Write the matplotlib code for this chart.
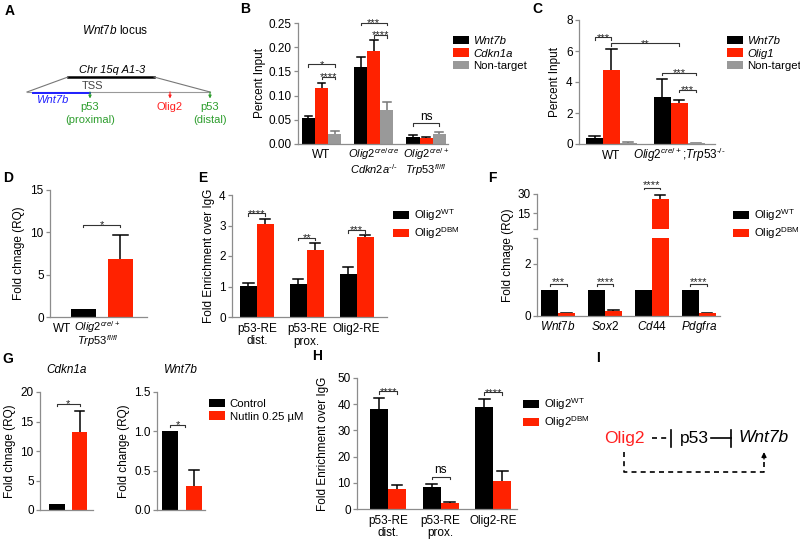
import numpy as np
import matplotlib
matplotlib.use("Agg")
import matplotlib.pyplot as plt

plt.rcParams['font.family'] = ['Liberation Sans', 'DejaVu Sans']
plt.rcParams['mathtext.fontset'] = 'custom'
plt.rcParams['mathtext.rm'] = 'Liberation Sans'
plt.rcParams['mathtext.it'] = 'Liberation Sans:italic'
plt.rcParams['mathtext.bf'] = 'Liberation Sans:bold'
plt.rcParams['font.size'] = 8

BLACK = '#000000'
RED = '#ff2200'
GRAY = '#999999'
SPINE = '#8c8c8c'
W, H = 800, 543

# ---- data ----
# B: ChIP percent input
groups_B = [['WT'],
            ['$\\mathit{Olig2}^{\\mathit{cre/cre}}$', '$\\mathit{Cdkn2a}^{\\text{-/-}}$'],
            ['$\\mathit{Olig2}^{\\mathit{cre/+}}$', '$\\mathit{Trp53}^{\\mathit{fl/fl}}$']]
wnt7b_B = [0.053, 0.160, 0.015]
wnt7b_B_err = [0.004, 0.020, 0.004]
cdkn1a_B = [0.116, 0.193, 0.013]
cdkn1a_B_err = [0.010, 0.021, 0.001]
nontarget_B = [0.021, 0.070, 0.020]
nontarget_B_err = [0.006, 0.017, 0.004]

# C
groups_C = [['WT'], ['$\\mathit{Olig2}^{\\mathit{cre/+}}$;$\\mathit{Trp53}^{\\text{-/-}}$']]
wnt7b_C = [0.37, 3.01]
wnt7b_C_err = [0.13, 1.16]
olig1_C = [4.77, 2.63]
olig1_C_err = [1.33, 0.20]
nontarget_C = [0.08, 0.05]
nontarget_C_err = [0.03, 0.03]

# D
groups_D = [['WT'], ['$\\mathit{Olig2}^{\\mathit{cre/+}}$', '$\\mathit{Trp53}^{\\mathit{fl/fl}}$']]
fold_D = [1.0, 6.8]
fold_D_err = [0.0, 2.9]

# E
groups_E = [['p53-RE', 'dist.'], ['p53-RE', 'prox.'], ['Olig2-RE']]
wt_E = [1.02, 1.07, 1.41]
wt_E_err = [0.10, 0.18, 0.22]
dbm_E = [3.05, 2.20, 2.61]
dbm_E_err = [0.17, 0.24, 0.08]

# F
genes_F = [['$\\mathit{Wnt7b}$'], ['$\\mathit{Sox2}$'], ['$\\mathit{Cd44}$'], ['$\\mathit{Pdgfra}$']]
wt_F = [1.0, 1.0, 1.0, 1.0]
dbm_F = [0.10, 0.20, 26.2, 0.10]
dbm_F_err = [0.03, 0.03, 3.0, 0.03]

# G
conds_G = ['Control', 'Nutlin 0.25 µM']
cdkn1a_G = [1.0, 13.3]
cdkn1a_G_err = [0.0, 3.5]
wnt7b_G = [1.0, 0.30]
wnt7b_G_err = [0.0, 0.21]

# H
groups_H = [['p53-RE', 'dist.'], ['p53-RE', 'prox.'], ['Olig2-RE']]
wt_H = [38.0, 8.5, 39.0]
wt_H_err = [4.2, 1.0, 2.9]
dbm_H = [7.5, 2.2, 10.8]
dbm_H_err = [1.7, 0.3, 3.8]


def rect(x0, x1, y0, y1):
    return [x0 / W, 1 - y1 / H, (x1 - x0) / W, (y1 - y0) / H]


def style(ax):
    for s in ['top', 'right']:
        ax.spines[s].set_visible(False)
    for s in ['left', 'bottom']:
        ax.spines[s].set_color(SPINE)
        ax.spines[s].set_linewidth(0.9)
    ax.tick_params(axis='y', length=3, width=0.9, color=SPINE, labelsize=8.5, pad=1.5)
    ax.tick_params(axis='x', length=0, labelsize=8.5, pad=3)


def xlabels(ax, xs, groups, first=10, step=8.6, size=8.5):
    # group labels drawn line by line so that mathtext lines keep a tight spacing
    ax.set_xticks([])
    for x, lines in zip(xs, groups):
        for i, t in enumerate(lines):
            ax.annotate(t, xy=(x, 0), xycoords=('data', 'axes fraction'),
                        xytext=(0, -(first + i * step)), textcoords='offset points',
                        ha='center', va='baseline', fontsize=size, annotation_clip=False)


def bars(ax, x, vals, errs, width, color, ecolor=BLACK, label=None):
    c = ax.bar(x, vals, width, color=color, label=label, zorder=2)
    x = np.asarray(x, dtype=float)
    for xi, v, e in zip(x, vals, errs):
        if e > 0:
            ax.plot([xi, xi], [v, v + e], color=ecolor, lw=1.1, zorder=1,
                    solid_capstyle='butt')
            ax.plot([xi - 0.3 * width, xi + 0.3 * width], [v + e, v + e],
                    color=ecolor, lw=1.1, zorder=1)
    return c


def sig(ax, x1, x2, y, txt, h=None):
    lo, hi = ax.get_ylim()
    if h is None:
        h = 0.02 * (hi - lo)
    ax.plot([x1, x1, x2, x2], [y - h, y, y, y - h], color='#333333', lw=0.8,
            clip_on=False)
    if txt == 'ns':
        ax.text((x1 + x2) / 2, y + 0.005 * (hi - lo), txt, ha='center', va='bottom',
                fontsize=8.5)
    else:
        ax.text((x1 + x2) / 2, y - 0.045 * (hi - lo), txt, ha='center', va='bottom',
                fontsize=8, color='#222222')


def legend(ax, handles, labels, x, y, italic=()):
    leg = fig.legend(handles, labels, loc='upper left',
                     bbox_to_anchor=(x / W, 1 - y / H), bbox_transform=fig.transFigure,
                     frameon=False, fontsize=8.2, handlelength=1.4, handleheight=0.75,
                     labelspacing=0.2, handletextpad=0.4, borderpad=0, borderaxespad=0)
    for i in italic:
        leg.get_texts()[i].set_fontstyle('italic')
    return leg


fig = plt.figure(figsize=(8, 5.43), dpi=100)

ov = fig.add_axes([0, 0, 1, 1])
ov.set_xlim(0, W)
ov.set_ylim(H, 0)
ov.axis('off')

# panel letters
for lab, px, py in [('A', 10, 11), ('B', 245, 9), ('C', 537, 9), ('D', 8, 178),
                    ('E', 203, 178), ('F', 492, 178), ('G', 8, 359), ('H', 317, 356),
                    ('I', 598, 358)]:
    ov.text(px, py, lab, fontsize=10, fontweight='bold', ha='center', va='center')

# ---- A: locus schematic ----
green = '#2e9e2e'
ov.text(115, 30, '$\\mathit{Wnt7b}$ locus', ha='center', va='center', fontsize=8.5)
ov.text(112, 70, 'Chr 15q A1-3', ha='center', va='center', fontsize=8, style='italic')
ov.plot([68, 154], [77, 77], color='k', lw=1.8)
ov.plot([27, 68], [92, 77], color='#777777', lw=0.8)
ov.plot([154, 210], [77, 92], color='#777777', lw=0.8)
ov.plot([27, 210], [92, 92], color='#999999', lw=0.8)
ov.text(93, 86, 'TSS', ha='center', va='center', fontsize=8, color='#444444')
ov.plot([33, 90], [92.5, 92.5], color='#1f1fff', lw=1.4)
ov.text(52, 100, 'Wnt7b', ha='center', va='center', fontsize=8, style='italic',
        color='#1f1fff')
for ax_x, col in [(90, green), (170, '#ff2020'), (210, green)]:
    ov.annotate('', xy=(ax_x, 98.5), xytext=(ax_x, 92),
                arrowprops=dict(arrowstyle='-|>', color=col, lw=0.8, mutation_scale=4,
                                shrinkA=0, shrinkB=0))
ov.text(90, 107, 'p53', ha='center', va='center', fontsize=8, color=green)
ov.text(90, 120, '(proximal)', ha='center', va='center', fontsize=8, color=green)
ov.text(170, 107, 'Olig2', ha='center', va='center', fontsize=8, color='#ff2020')
ov.text(210, 107, 'p53', ha='center', va='center', fontsize=8, color=green)
ov.text(210, 120, '(distal)', ha='center', va='center', fontsize=8, color=green)

# ---- B ----
axB = fig.add_axes(rect(298, 448, 23, 144))
style(axB)
xB = np.arange(len(groups_B))
wB = 0.25
axB.set_xlim(-0.45, 2.42)
axB.set_ylim(0, 0.25)
b1 = bars(axB, xB - wB, wnt7b_B, wnt7b_B_err, wB, BLACK)
b2 = bars(axB, xB, cdkn1a_B, cdkn1a_B_err, wB, RED)
b3 = bars(axB, xB + wB, nontarget_B, nontarget_B_err, wB, GRAY, ecolor='#777777')
axB.set_yticks([0, 0.05, 0.10, 0.15, 0.20, 0.25])
axB.set_yticklabels(['0.00', '0.05', '0.10', '0.15', '0.20', '0.25'])
xlabels(axB, xB[:1], groups_B[:1], first=10)
xlabels(axB, xB[1:], groups_B[1:], first=10, step=11.3, size=8)
axB.set_ylabel('Percent Input', fontsize=8.5, labelpad=2)
sig(axB, -wB, wB, 0.165, '*')
sig(axB, 0, wB, 0.139, '****')
sig(axB, 1 - wB, 1 + wB, 0.25, '***')
sig(axB, 1, 1 + wB, 0.225, '****')
sig(axB, 2 - wB, 2 + wB, 0.043, 'ns')
legend(axB, [b1, b2, b3], ['Wnt7b', 'Cdkn1a', 'Non-target'], 453, 36, italic=(0, 1))

# ---- C ----
axC = fig.add_axes(rect(579, 715, 20, 144))
style(axC)
xC = np.arange(len(groups_C))
wC = 0.25
axC.set_xlim(-0.48, 1.53)
axC.set_ylim(0, 8)
c1 = bars(axC, xC - wC, wnt7b_C, wnt7b_C_err, wC, BLACK)
c2 = bars(axC, xC, olig1_C, olig1_C_err, wC, RED)
c3 = bars(axC, xC + wC, nontarget_C, nontarget_C_err, wC, GRAY, ecolor='#777777')
axC.set_yticks([0, 2, 4, 6, 8])
xlabels(axC, xC, groups_C, first=10.5)
axC.set_ylabel('Percent Input', fontsize=8.5, labelpad=4)
sig(axC, -wC, 0, 6.9, '***')
sig(axC, 0, 1, 6.5, '**')
sig(axC, 1 - wC, 1 + wC, 4.6, '***')
sig(axC, 1, 1 + wC, 3.5, '***')
legend(axC, [c1, c2, c3], ['Wnt7b', 'Olig1', 'Non-target'], 727, 36, italic=(0, 1))

# ---- D ----
axD = fig.add_axes(rect(50, 147, 190, 317))
style(axD)
xD = np.arange(len(groups_D))
axD.set_xlim(-0.9, 1.72)
axD.set_ylim(0, 15)
bars(axD, xD[:1], fold_D[:1], fold_D_err[:1], 0.68, BLACK)
bars(axD, xD[1:], fold_D[1:], fold_D_err[1:], 0.68, RED)
axD.set_yticks([0, 5, 10, 15])
# labels sit left of the bars in the original
xlabels(axD, xD[:1] - 0.58, groups_D[:1], first=10.5)
xlabels(axD, xD[1:] - 0.62, groups_D[1:], first=10, step=10.2, size=8)
axD.set_ylabel('Fold chnage (RQ)', fontsize=8.5, labelpad=4)
sig(axD, 0, 1, 10.9, '*')

# ---- E ----
axE = fig.add_axes(rect(232, 387, 195, 317))
style(axE)
xE = np.arange(len(groups_E))
wE = 0.34
axE.set_xlim(-0.5, 2.61)
axE.set_ylim(0, 4)
e1 = bars(axE, xE - wE / 2, wt_E, wt_E_err, wE, BLACK)
e2 = bars(axE, xE + wE / 2, dbm_E, dbm_E_err, wE, RED)
axE.set_yticks([0, 1, 2, 3, 4])
xlabels(axE, xE, groups_E, first=11, step=8.8)
axE.set_ylabel('Fold Enrichment over IgG', fontsize=8.5, labelpad=3)
sig(axE, -wE / 2, wE / 2, 3.4, '****')
sig(axE, 1 - wE / 2, 1 + wE / 2, 2.6, '**')
sig(axE, 2 - wE / 2, 2 + wE / 2, 2.85, '***')
legend(axE, [e1, e2], ['Olig2$^{\\rm WT}$', 'Olig2$^{\\rm DBM}$'], 393, 207)

# ---- F (broken axis) ----
xF = np.arange(len(genes_F))
wF = 0.36
axF = fig.add_axes(rect(537, 720, 238, 316))
axFu = fig.add_axes(rect(537, 720, 194, 229))
for a in (axF, axFu):
    style(a)
    a.set_xlim(-0.45, 3.45)
    f1 = bars(a, xF - wF / 2, wt_F, [0, 0, 0, 0], wF, BLACK)
    f2 = bars(a, xF + wF / 2, dbm_F, dbm_F_err, wF, RED)
axF.set_ylim(0, 3)
axF.set_yticks([0, 2])
axF.set_yticks([3], minor=True)
axF.tick_params(axis='y', which='minor', length=3, width=0.9, color=SPINE)
xlabels(axF, xF, genes_F, first=10)
axFu.set_ylim(3, 30)
axFu.set_yticks([15, 30])
axFu.set_yticks([3], minor=True)
axFu.tick_params(axis='y', which='minor', length=3, width=0.9, color=SPINE)
axFu.spines['bottom'].set_visible(False)
axFu.set_xticks([])
fig.text(508 / W, 1 - 255 / H, 'Fold chnage (RQ)', rotation=90, ha='center',
         va='center', fontsize=8.5)
for i in (0, 1, 3):
    sig(axF, i - wF / 2, i + wF / 2, 1.23, '****' if i else '***')
sig(axFu, 2 - wF / 2, 2 + wF / 2, 34.4, '****')
legend(axF, [f1, f2], ['Olig2$^{\\rm WT}$', 'Olig2$^{\\rm DBM}$'], 733, 207)

# ---- G ----
axG1 = fig.add_axes(rect(40, 93, 392, 510))
style(axG1)
axG1.set_xlim(-0.76, 1.6)
axG1.set_ylim(0, 20)
g1 = bars(axG1, [0], cdkn1a_G[:1], cdkn1a_G_err[:1], 0.7, BLACK)
g2 = bars(axG1, [1], cdkn1a_G[1:], cdkn1a_G_err[1:], 0.7, RED)
axG1.set_yticks([0, 5, 10, 15, 20])
axG1.set_xticks([])
axG1.set_ylabel('Fold chnage (RQ)', fontsize=8.5, labelpad=3)
axG1.set_title('Cdkn1a', fontstyle='italic', fontsize=8.5, pad=14)
sig(axG1, 0, 1, 18.0, '*')

axG2 = fig.add_axes(rect(157, 205, 392, 510))
style(axG2)
axG2.set_xlim(-0.57, 1.47)
axG2.set_ylim(0, 1.5)
bars(axG2, [0], wnt7b_G[:1], wnt7b_G_err[:1], 0.68, BLACK)
bars(axG2, [1], wnt7b_G[1:], wnt7b_G_err[1:], 0.68, RED)
axG2.set_yticks([0, 0.5, 1.0, 1.5])
axG2.set_yticklabels(['0.0', '0.5', '1.0', '1.5'])
axG2.set_xticks([])
axG2.set_ylabel('Fold change (RQ)', fontsize=8.5, labelpad=3)
axG2.set_title('Wnt7b', fontstyle='italic', fontsize=8.5, pad=14)
sig(axG2, 0, 0.6, 1.08, '*')
legend(axG2, [g1, g2], conds_G, 209, 399)

# ---- H ----
axH = fig.add_axes(rect(357, 517, 378, 509))
style(axH)
xH = np.arange(len(groups_H))
wH = 0.34
axH.set_xlim(-0.59, 2.45)
axH.set_ylim(0, 50)
h1 = bars(axH, xH - wH / 2, wt_H, wt_H_err, wH, BLACK)
h2 = bars(axH, xH + wH / 2, dbm_H, dbm_H_err, wH, RED)
axH.set_yticks([0, 10, 20, 30, 40, 50])
xlabels(axH, xH, groups_H, first=10.5, step=8.8)
axH.set_ylabel('Fold Enrichment over IgG', fontsize=8.5, labelpad=6)
sig(axH, -wH / 2, wH / 2, 45, '****')
sig(axH, 1 - wH / 2, 1 + wH / 2, 12.3, 'ns')
sig(axH, 2 - wH / 2, 2 + wH / 2, 44.5, '****')
legend(axH, [h1, h2], ['Olig2$^{\\rm WT}$', 'Olig2$^{\\rm DBM}$'], 523, 396)

# ---- I: model ----
ov.text(624, 438, 'Olig2', ha='center', va='center', fontsize=12.5, color='#ff2020')
ov.plot([652, 669], [438, 438], color='k', lw=1.2, dashes=(3, 2.5))
ov.plot([671, 671], [430, 447], color='k', lw=1.2)
ov.text(694, 438, 'p53', ha='center', va='center', fontsize=12.5)
ov.plot([711, 731], [438, 438], color='k', lw=1.2)
ov.plot([731, 731], [430, 447], color='k', lw=1.2)
ov.text(738, 438, 'Wnt7b', ha='left', va='center', fontsize=12.5, style='italic')
ov.plot([624, 624, 764, 764], [452, 472, 472, 458], color='k', lw=1.2, dashes=(3, 2.5))
ov.annotate('', xy=(764, 452), xytext=(764, 459),
            arrowprops=dict(arrowstyle='-|>', color='k', lw=1.0, mutation_scale=7,
                            shrinkA=0, shrinkB=0))

fig.savefig('out.png', dpi=100)
